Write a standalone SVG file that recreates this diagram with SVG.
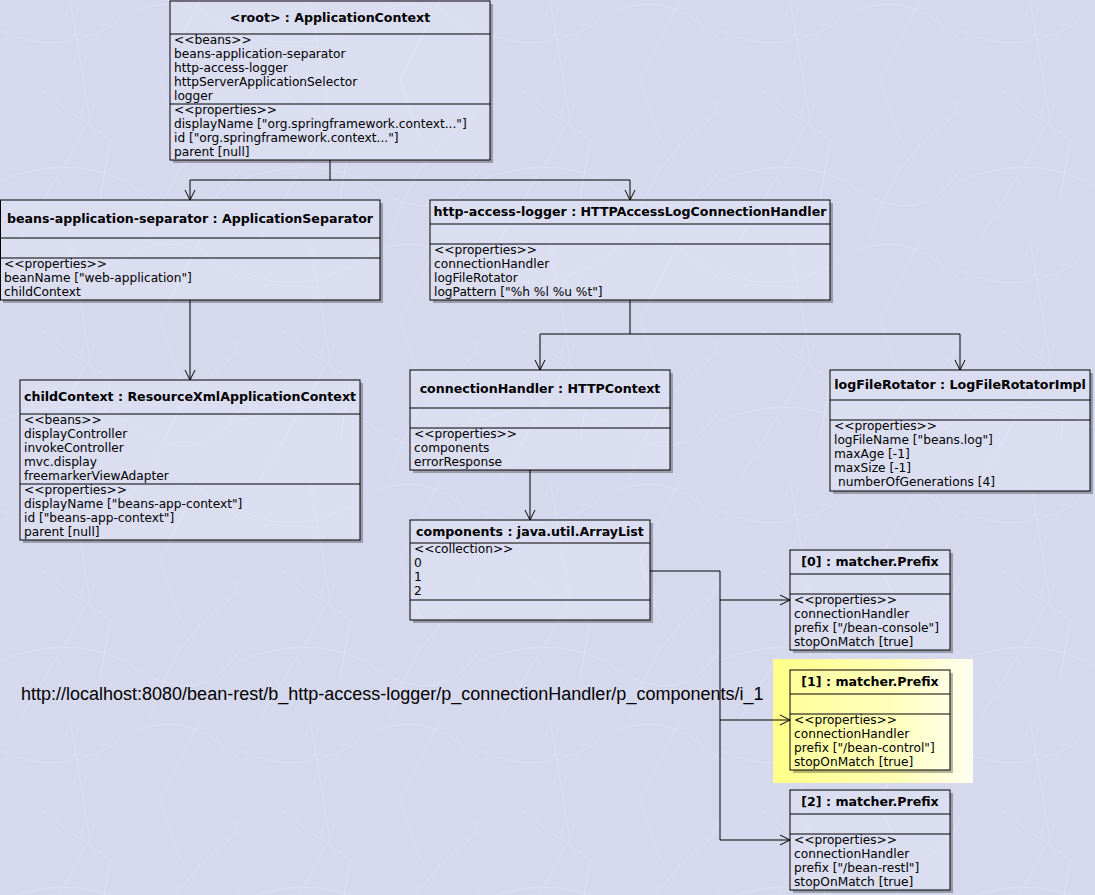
<svg xmlns="http://www.w3.org/2000/svg" width="1095" height="895" viewBox="0 0 1095 895">
  <defs>
    <style>
      .box { fill: #ffffff; fill-opacity: 0.12; stroke: #000; stroke-width: 1; }
      .shadow { fill: #000; fill-opacity: 0.28; }
      .sep { stroke: #000; stroke-width: 1; fill: none; }
      .title { font-family: "DejaVu Sans", Verdana, sans-serif; font-size: 12.6px; font-weight: bold; text-anchor: middle; fill: #000; }
      .row { font-family: "DejaVu Sans", Verdana, sans-serif; font-size: 12.2px; fill: #000; }
      .wire { stroke: #000; stroke-width: 1; fill: none; }
      .url { font-family: "Liberation Sans", Arial, sans-serif; font-size: 18px; fill: #000; }
    </style>
    <marker id="open" viewBox="0 0 12 12" refX="11" refY="6" markerWidth="12" markerHeight="12" markerUnits="userSpaceOnUse" orient="auto">
      <path d="M1,1 L11,6 L1,11" fill="none" stroke="#000" stroke-width="1"/>
    </marker>
    <linearGradient id="hl" x1="0" y1="0" x2="1" y2="0">
      <stop offset="0" stop-color="#ffff8a"/>
      <stop offset="0.6" stop-color="#ffffb4"/>
      <stop offset="1" stop-color="#fffff2"/>
    </linearGradient>
    <pattern id="marble" width="240" height="240" patternUnits="userSpaceOnUse">
      <g stroke="#ffffff" stroke-opacity="0.25" stroke-width="0.8" fill="none">
        <path d="M0,30 Q60,60 120,20 T240,40"/>
        <path d="M20,240 L90,120 L70,0"/>
        <path d="M150,240 Q170,160 230,120 L240,100"/>
        <path d="M0,180 Q80,150 140,190 T240,170"/>
        <path d="M200,0 L160,80 L180,140"/>
        <path d="M40,90 L110,140 L100,200"/>
      </g>
    </pattern>
  </defs>

  <!-- canvas -->
  <rect x="0" y="0" width="1095" height="895" fill="#d6d9ee"/>
  <rect x="0" y="0" width="1095" height="895" fill="url(#marble)"/>

  <!-- selection highlight behind [1] -->
  <rect x="773" y="659" width="200" height="124" fill="url(#hl)"/>

  <text class="url" x="21" y="700">http://localhost:8080/bean-rest/b_http-access-logger/p_connectionHandler/p_components/i_1</text>

  <!-- connectors -->
  <g id="connectors">
    <path class="wire" d="M330,160 V180 H190 V200" marker-end="url(#open)"/>
    <path class="wire" d="M330,180 H630 V200" marker-end="url(#open)"/>
    <path class="wire" d="M190,300 V380" marker-end="url(#open)"/>
    <path class="wire" d="M630,300 V334 H540 V370" marker-end="url(#open)"/>
    <path class="wire" d="M630,334 H960 V370" marker-end="url(#open)"/>
    <path class="wire" d="M530,470 V520" marker-end="url(#open)"/>
    <path class="wire" d="M650,571 H720 V600 H790" marker-end="url(#open)"/>
    <path class="wire" d="M720,600 V720 H790" marker-end="url(#open)"/>
    <path class="wire" d="M720,720 V840 H790" marker-end="url(#open)"/>
  </g>

  <!-- root application context -->
  <g id="root-context">
    <path class="shadow" d="M490,4 h3 v159 h-320 v-3 h317 z"/>
    <rect class="box" x="170" y="1" width="320" height="159"/>
    <path class="sep" d="M170,34 H490 M170,104 H490"/>
    <text class="title" x="330" y="22">&lt;root&gt; : ApplicationContext</text>
    <text class="row" x="174" y="44">&lt;&lt;beans&gt;&gt;</text>
    <text class="row" x="174" y="58">beans-application-separator</text>
    <text class="row" x="174" y="72">http-access-logger</text>
    <text class="row" x="174" y="86">httpServerApplicationSelector</text>
    <text class="row" x="174" y="100">logger</text>
    <text class="row" x="174" y="114">&lt;&lt;properties&gt;&gt;</text>
    <text class="row" x="174" y="128">displayName ["org.springframework.context..."]</text>
    <text class="row" x="174" y="142">id ["org.springframework.context..."]</text>
    <text class="row" x="174" y="156">parent [null]</text>
  </g>

  <!-- beans-application-separator -->
  <g id="beans-application-separator">
    <path class="shadow" d="M380,203 h3 v100 h-380 v-3 h377 z"/>
    <rect class="box" x="0.5" y="200" width="379.5" height="100"/>
    <path class="sep" d="M0,238 H380 M0,258 H380"/>
    <text class="title" x="190" y="223">beans-application-separator : ApplicationSeparator</text>
    <text class="row" x="4" y="268">&lt;&lt;properties&gt;&gt;</text>
    <text class="row" x="4" y="282">beanName ["web-application"]</text>
    <text class="row" x="4" y="296">childContext</text>
  </g>

  <!-- http-access-logger -->
  <g id="http-access-logger">
    <path class="shadow" d="M830,203 h3 v100 h-400 v-3 h397 z"/>
    <rect class="box" x="430" y="200" width="400" height="100"/>
    <path class="sep" d="M430,224 H830 M430,244 H830"/>
    <text class="title" x="630" y="216">http-access-logger : HTTPAccessLogConnectionHandler</text>
    <text class="row" x="434" y="254">&lt;&lt;properties&gt;&gt;</text>
    <text class="row" x="434" y="268">connectionHandler</text>
    <text class="row" x="434" y="282">logFileRotator</text>
    <text class="row" x="434" y="296">logPattern ["%h %l %u %t"]</text>
  </g>

  <!-- childContext -->
  <g id="child-context">
    <path class="shadow" d="M360,383 h3 v160 h-340 v-3 h337 z"/>
    <rect class="box" x="20" y="380" width="340" height="160"/>
    <path class="sep" d="M20,414 H360 M20,484 H360"/>
    <text class="title" x="190" y="401">childContext : ResourceXmlApplicationContext</text>
    <text class="row" x="24" y="424">&lt;&lt;beans&gt;&gt;</text>
    <text class="row" x="24" y="438">displayController</text>
    <text class="row" x="24" y="452">invokeController</text>
    <text class="row" x="24" y="466">mvc.display</text>
    <text class="row" x="24" y="480">freemarkerViewAdapter</text>
    <text class="row" x="24" y="494">&lt;&lt;properties&gt;&gt;</text>
    <text class="row" x="24" y="508">displayName ["beans-app-context"]</text>
    <text class="row" x="24" y="522">id ["beans-app-context"]</text>
    <text class="row" x="24" y="536">parent [null]</text>
  </g>

  <!-- connectionHandler -->
  <g id="connection-handler">
    <path class="shadow" d="M670,373 h3 v100 h-260 v-3 h257 z"/>
    <rect class="box" x="410" y="370" width="260" height="100"/>
    <path class="sep" d="M410,408 H670 M410,428 H670"/>
    <text class="title" x="540" y="393">connectionHandler : HTTPContext</text>
    <text class="row" x="414" y="438">&lt;&lt;properties&gt;&gt;</text>
    <text class="row" x="414" y="452">components</text>
    <text class="row" x="414" y="466">errorResponse</text>
  </g>

  <!-- logFileRotator -->
  <g id="log-file-rotator">
    <path class="shadow" d="M1090,373 h3 v121 h-260 v-3 h257 z"/>
    <rect class="box" x="830" y="370" width="260" height="121"/>
    <path class="sep" d="M830,400 H1090 M830,420 H1090"/>
    <text class="title" x="960" y="389">logFileRotator : LogFileRotatorImpl</text>
    <text class="row" x="834" y="430">&lt;&lt;properties&gt;&gt;</text>
    <text class="row" x="834" y="444">logFileName ["beans.log"]</text>
    <text class="row" x="834" y="458">maxAge [-1]</text>
    <text class="row" x="834" y="472">maxSize [-1]</text>
    <text class="row" x="838" y="486">numberOfGenerations [4]</text>
  </g>

  <!-- components list -->
  <g id="components">
    <path class="shadow" d="M650,523 h3 v100 h-240 v-3 h237 z"/>
    <rect class="box" x="410" y="520" width="240" height="100"/>
    <path class="sep" d="M410,543 H650 M410,600 H650"/>
    <text class="title" x="530" y="536">components : java.util.ArrayList</text>
    <text class="row" x="414" y="553">&lt;&lt;collection&gt;&gt;</text>
    <text class="row" x="414" y="567">0</text>
    <text class="row" x="414" y="581">1</text>
    <text class="row" x="414" y="595">2</text>
  </g>

  <!-- [0] prefix matcher -->
  <g id="prefix-0">
    <path class="shadow" d="M950,553 h3 v100 h-160 v-3 h157 z"/>
    <rect class="box" x="790" y="550" width="160" height="100"/>
    <path class="sep" d="M790,574 H950 M790,594 H950"/>
    <text class="title" x="870" y="566">[0] : matcher.Prefix</text>
    <text class="row" x="794" y="604">&lt;&lt;properties&gt;&gt;</text>
    <text class="row" x="794" y="618">connectionHandler</text>
    <text class="row" x="794" y="632">prefix ["/bean-console"]</text>
    <text class="row" x="794" y="646">stopOnMatch [true]</text>
  </g>

  <!-- [1] prefix matcher (selected) -->
  <g id="prefix-1">
    <path class="shadow" d="M950,673 h3 v100 h-160 v-3 h157 z"/>
    <rect class="box" x="790" y="670" width="160" height="100"/>
    <path class="sep" d="M790,694 H950 M790,714 H950"/>
    <text class="title" x="870" y="686">[1] : matcher.Prefix</text>
    <text class="row" x="794" y="724">&lt;&lt;properties&gt;&gt;</text>
    <text class="row" x="794" y="738">connectionHandler</text>
    <text class="row" x="794" y="752">prefix ["/bean-control"]</text>
    <text class="row" x="794" y="766">stopOnMatch [true]</text>
  </g>

  <!-- [2] prefix matcher -->
  <g id="prefix-2">
    <path class="shadow" d="M950,793 h3 v100 h-160 v-3 h157 z"/>
    <rect class="box" x="790" y="790" width="160" height="100"/>
    <path class="sep" d="M790,814 H950 M790,834 H950"/>
    <text class="title" x="870" y="806">[2] : matcher.Prefix</text>
    <text class="row" x="794" y="844">&lt;&lt;properties&gt;&gt;</text>
    <text class="row" x="794" y="858">connectionHandler</text>
    <text class="row" x="794" y="872">prefix ["/bean-restl"]</text>
    <text class="row" x="794" y="886">stopOnMatch [true]</text>
  </g>
</svg>
